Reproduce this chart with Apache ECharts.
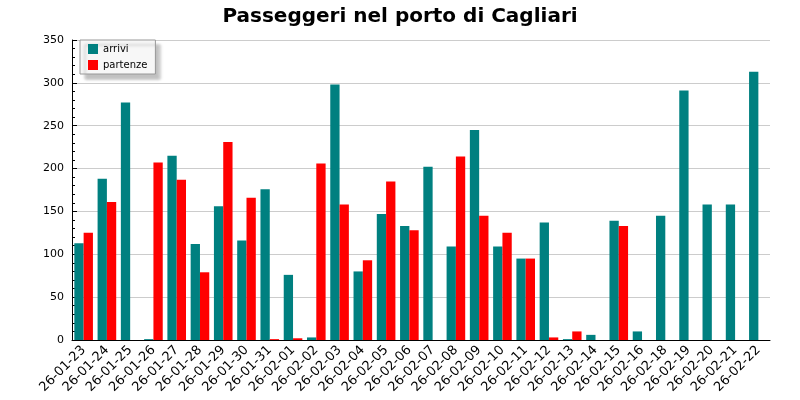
<!DOCTYPE html>
<html>
<head>
<meta charset="utf-8">
<script src="https://cdn.jsdelivr.net/npm/echarts@6/dist/echarts.min.js"></script>
<style>html,body{margin:0;padding:0;background:#fff}#chart{width:800px;height:400px}</style>
</head>
<body>
<div id="chart"></div>
<script>
// giorni
const days = ["26-01-23","26-01-24","26-01-25","26-01-26","26-01-27","26-01-28","26-01-29","26-01-30","26-01-31",
  "26-02-01","26-02-02","26-02-03","26-02-04","26-02-05","26-02-06","26-02-07","26-02-08","26-02-09","26-02-10",
  "26-02-11","26-02-12","26-02-13","26-02-14","26-02-15","26-02-16","26-02-18","26-02-19","26-02-20","26-02-21","26-02-22"];
const arrivi = [113,188,277,1,215,112,156,116,176,76,3,298,80,147,133,202,109,245,109,95,137,1,6,139,10,145,291,158,158,313];
const partenze = [125,161,0,207,187,79,231,166,1,2,206,158,93,185,128,0,214,145,125,95,3,10,0,133,0,0,0,0,0,0];

var myChart = echarts.init(document.getElementById("chart"));
myChart.setOption({
  animation: false,
  textStyle: { fontFamily: "DejaVu Sans" },
  title: {
    text: "Passeggeri nel porto di Cagliari",
    left: "center",
    top: 2,
    textStyle: { fontSize: 20, fontWeight: "bold", color: "#000", fontFamily: "DejaVu Sans" }
  },
  legend: {
    orient: "vertical",
    left: 80,
    top: 40,
    itemWidth: 10,
    itemHeight: 10,
    itemGap: 6,
    padding: [4, 8, 4, 8],
    backgroundColor: "#f7f7f7",
    borderColor: "#999",
    borderWidth: 1,
    shadowColor: "rgba(0,0,0,0.25)",
    shadowOffsetX: 5,
    shadowOffsetY: 5,
    shadowBlur: 3,
    textStyle: { fontSize: 10, color: "#000" },
    icon: "rect",
    data: ["arrivi", "partenze"]
  },
  grid: { left: 72, right: 30, top: 40, bottom: 60 },
  xAxis: {
    type: "category",
    data: days,
    axisLine: { lineStyle: { color: "#000" } },
    axisTick: { show: false },
    axisLabel: { rotate: 45, fontSize: 13, color: "#000", interval: 0 }
  },
  yAxis: {
    type: "value",
    min: 0,
    max: 350,
    interval: 50,
    axisLine: { show: true, lineStyle: { color: "#000" } },
    axisTick: { show: true, inside: true, lineStyle: { color: "#000" } },
    minorTick: { show: true, splitNumber: 5, length: 3, lineStyle: { color: "#000" } },
    axisLabel: { fontSize: 11, color: "#000" },
    splitLine: { lineStyle: { color: "#ccc" } }
  },
  series: [
    { name: "arrivi", type: "bar", data: arrivi, itemStyle: { color: "#008080" }, barGap: "0%", barCategoryGap: "20%" },
    { name: "partenze", type: "bar", data: partenze, itemStyle: { color: "#ff0000" } }
  ]
});
</script>
</body>
</html>
